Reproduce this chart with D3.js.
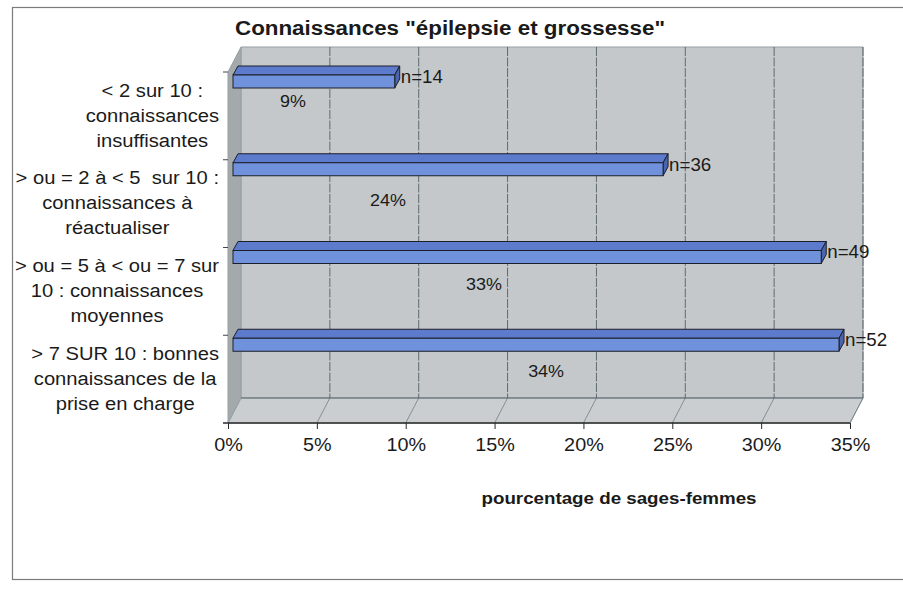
<!DOCTYPE html>
<html>
<head>
<meta charset="utf-8">
<script src="https://cdn.jsdelivr.net/npm/d3@7"></script>
<style>
  body { margin: 0; background: #fff; }
  text { font-family: "Liberation Sans", Arial, sans-serif; fill: #1a1a1a; white-space: pre; }
</style>
</head>
<body>
<div id="chart"></div>
<script>
// data
var categories = ["cat1", "cat2", "cat3", "cat4"];
var categoryLines = [
    ["< 2 sur 10 :", "connaissances", "insuffisantes"],
    ["> ou = 2 à < 5  sur 10 :", "connaissances à", "réactualiser"],
    ["> ou = 5 à < ou = 7 sur", "10 : connaissances", "moyennes"],
    ["> 7 SUR 10 : bonnes", "connaissances de la", "prise en charge"]
];
var percentValues = [9.1, 24.2, 33.1, 34.1];
var counts = [14, 36, 49, 52];
var percentLabels = ["9%", "24%", "33%", "34%"];
var xTicks = [0, 5, 10, 15, 20, 25, 30, 35];
var title = "Connaissances \"épilepsie et grossesse\"";
var xTitle = "pourcentage de sages-femmes";

// where Excel dropped the % labels (axis units / px below band top)
var pctLabelAt = [3.66, 9.0, 14.4, 17.9];
var pctLabelDy = [31, 42, 38, 38];

var width = 903, height = 590;
var depthX = 13, depthY = -25;       // floor depth
var barOffX = 5, barDepthX = 5, barDepthY = -9, barThick = 13;
var stretchK = 1.12;                 // scanned picture is wider than tall

var x = d3.scaleLinear().domain([0, 35]).range([228, 850]);
var y = d3.scaleBand().domain(categories).range([72, 423]);

var svg = d3.select("#chart").append("svg")
    .attr("width", width)
    .attr("height", height);

function stretch(sel, k) {
    sel.each(function () {
        var len = this.getComputedTextLength();
        d3.select(this).attr("textLength", len * k).attr("lengthAdjust", "spacingAndGlyphs");
    });
}
function pts(a) {
    return a.map(function (p) { return p.join(","); }).join(" ");
}

// outer frame
svg.append("rect")
    .attr("x", 12.5).attr("y", 7.5)
    .attr("width", 910).attr("height", 572)
    .attr("fill", "none")
    .attr("stroke", "#7d7a7a")
    .attr("stroke-width", 1.2);

var x0 = x(0), x1 = x(35), yT = y.range()[0], yB = y.range()[1];

// walls
svg.append("polygon")   // back wall
    .attr("points", pts([[x0 + depthX, yT + depthY], [x1 + depthX, yT + depthY], [x1 + depthX, yB + depthY], [x0 + depthX, yB + depthY]]))
    .attr("fill", "#c4c8ca").attr("stroke", "#95a0a3").attr("stroke-width", 1);
svg.append("polygon")   // floor
    .attr("points", pts([[x0 + depthX, yB + depthY], [x1 + depthX, yB + depthY], [x1, yB], [x0, yB]]))
    .attr("fill", "#caced0").attr("stroke", "#95a0a3").attr("stroke-width", 1);
svg.append("polygon")   // left wall
    .attr("points", pts([[x0, yT], [x0 + depthX, yT + depthY], [x0 + depthX, yB + depthY], [x0, yB]]))
    .attr("fill", "#a4aaac").attr("stroke", "#95a0a3").attr("stroke-width", 1);

// grid lines on back wall and floor
var grid = svg.append("g").attr("class", "grid");
grid.selectAll(".gv").data(xTicks.slice(1)).enter().append("line")
    .attr("x1", function (d) { return x(d) + depthX; })
    .attr("x2", function (d) { return x(d) + depthX; })
    .attr("y1", yT + depthY).attr("y2", yB + depthY)
    .attr("stroke", "#44535a").attr("stroke-width", 0.8).attr("stroke-dasharray", "9,1.5");
grid.selectAll(".gf").data(xTicks.slice(1)).enter().append("line")
    .attr("x1", function (d) { return x(d) + depthX; })
    .attr("x2", function (d) { return x(d); })
    .attr("y1", yB + depthY).attr("y2", yB)
    .attr("stroke", "#66747a").attr("stroke-width", 0.7);
grid.append("line")
    .attr("x1", x0 + depthX).attr("x2", x1 + depthX)
    .attr("y1", yB + depthY).attr("y2", yB + depthY)
    .attr("stroke", "#5a686e").attr("stroke-width", 0.9);

// x axis along the front edge of the floor
var xAxis = d3.axisBottom(x).tickValues(xTicks).tickSize(6).tickPadding(9)
    .tickFormat(function (d) { return d + "%"; });
var gx = svg.append("g")
    .attr("transform", "translate(0," + yB + ")")
    .call(xAxis);
gx.select(".domain").attr("stroke", "#2a2a2a").attr("stroke-width", 1.3).attr("d", "M" + (x0 - 5) + ",0H" + x1);
gx.selectAll(".tick line").attr("stroke", "#2a2a2a");
gx.selectAll(".tick text")
    .style("font-family", "'Liberation Sans', Arial, sans-serif")
    .style("font-size", "18px")
    .attr("fill", "#1a1a1a")
    .call(stretch, 1.1);

// category ticks on the left
svg.selectAll(".ctick").data(categories).enter().append("line")
    .attr("x1", x0 - 5).attr("x2", x0)
    .attr("y1", function (d) { return y(d); })
    .attr("y2", function (d) { return y(d); })
    .attr("stroke", "#444");

// 3D bars
var bars = svg.selectAll(".bar").data(percentValues).enter().append("g").attr("class", "bar");
bars.each(function (v, i) {
    var g = d3.select(this);
    var top = y(categories[i]) + 3, bot = top + barThick;
    var a = x(0) + barOffX, b = x(v) + barOffX;
    g.append("polygon")   // top face
        .attr("points", pts([[a, top], [a + barDepthX, top + barDepthY], [b + barDepthX, top + barDepthY], [b, top]]))
        .attr("fill", "#5c7bcc").attr("stroke", "#1c1f2a").attr("stroke-width", 1);
    g.append("polygon")   // end face
        .attr("points", pts([[b, top], [b + barDepthX, top + barDepthY], [b + barDepthX, bot + barDepthY], [b, bot]]))
        .attr("fill", "#4a64ad").attr("stroke", "#1c1f2a").attr("stroke-width", 1);
    g.append("rect")      // front face
        .attr("x", a).attr("y", top)
        .attr("width", b - a).attr("height", barThick)
        .attr("fill", "#7092dc").attr("stroke", "#1c1f2a").attr("stroke-width", 1);
});

// n= labels
svg.selectAll(".nlab").data(counts).enter().append("text")
    .attr("x", function (d, i) { return x(percentValues[i]) + barOffX + 6; })
    .attr("y", function (d, i) { return y(categories[i]) + 6; })
    .attr("dominant-baseline", "middle")
    .style("font-size", "18px")
    .text(function (d) { return "n=" + d; })
    .call(stretch, 1.04);

// % labels
svg.selectAll(".plab").data(percentLabels).enter().append("text")
    .attr("x", function (d, i) { return x(pctLabelAt[i]); })
    .attr("y", function (d, i) { return y(categories[i]) + pctLabelDy[i]; })
    .attr("text-anchor", "middle")
    .attr("dominant-baseline", "middle")
    .style("font-size", "16px")
    .text(function (d) { return d; })
    .call(stretch, 1.12);

// category labels, centred block, right edge at 219
var cats = svg.selectAll(".cat").data(categories).enter().append("g").attr("class", "cat");
cats.each(function (c, i) {
    var g = d3.select(this);
    var cy = y(c) + y.bandwidth() / 2;
    var lines = categoryLines[i];
    g.selectAll("text").data(lines).enter().append("text")
        .attr("x", 0)
        .attr("y", function (d, j) { return cy + (j - (lines.length - 1) / 2) * 25 + 1; })
        .attr("text-anchor", "middle")
        .attr("dominant-baseline", "middle")
        .style("font-size", "18px")
        .text(function (d) { return d; })
        .call(stretch, stretchK);
    var w = d3.max(g.selectAll("text").nodes(), function (n) { return +n.getAttribute("textLength"); });
    g.attr("transform", "translate(" + (219 - w / 2) + ",0)");
});

// titles
svg.append("text")
    .attr("x", 450).attr("y", 30)
    .attr("text-anchor", "middle").attr("dominant-baseline", "middle")
    .style("font-size", "20px").style("font-weight", "bold")
    .attr("textLength", 430).attr("lengthAdjust", "spacingAndGlyphs")
    .text(title);
svg.append("text")
    .attr("x", 619).attr("y", 500)
    .attr("text-anchor", "middle").attr("dominant-baseline", "middle")
    .style("font-size", "16px").style("font-weight", "bold")
    .attr("textLength", 275).attr("lengthAdjust", "spacingAndGlyphs")
    .text(xTitle);
</script>
</body>
</html>
